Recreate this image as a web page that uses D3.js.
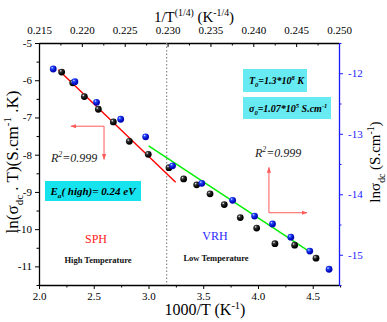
<!DOCTYPE html>
<html><head><meta charset="utf-8">
<script src="https://cdn.jsdelivr.net/npm/d3@7/dist/d3.min.js"></script>
<style>
body{margin:0;background:#fff}
svg{display:block}
text{font-family:"Liberation Serif","Times New Roman",serif}
</style>
</head><body>
<svg id="c" width="387" height="322"></svg>
<script>
// ---- data (bottom / left axes): ln(sigma_dc*T) vs 1000/T ----
const blackX = [2.207, 2.308, 2.414, 2.542, 2.679, 2.825, 2.998, 3.187, 3.321, 3.440, 3.562, 3.692, 3.838, 3.988, 4.155, 4.335, 4.530];
const blackY = [-5.78, -6.07, -6.44, -6.78, -7.12, -7.64, -7.99, -8.35, -8.65, -8.81, -9.05, -9.34, -9.69, -9.97, -10.39, -10.43, -10.78];
// ---- data (top / right axes): ln(sigma_dc) vs 1/T^(1/4) ----
const blueX = [0.21666, 0.21919, 0.22171, 0.22453, 0.22744, 0.23058, 0.23399, 0.23759, 0.24015, 0.24224, 0.24438, 0.24659, 0.24884];
const blueY = [-11.93, -12.14, -12.48, -12.76, -13.05, -13.53, -13.82, -14.10, -14.36, -14.49, -14.71, -14.94, -15.24];
// fits
const redFitX = [2.176, 3.248];
const redFitY = [-5.72, -8.74];
const greenFitX = [0.22779, 0.24678];
const greenFitY = [-13.20, -14.97];
const dividerX = 3.166;
// ticks
const bottomTicks = [2.0, 2.5, 3.0, 3.5, 4.0, 4.5];
const bottomMinor = [2.25, 2.75, 3.25, 3.75, 4.25, 4.75];
const leftTicks = [-5, -6, -7, -8, -9, -10, -11];
const leftMinor = [-5.5, -6.5, -7.5, -8.5, -9.5, -10.5, -11.5];
const topTicks = [0.215, 0.220, 0.225, 0.230, 0.235, 0.240, 0.245, 0.250];
const topMinor = [0.2175, 0.2225, 0.2275, 0.2325, 0.2375, 0.2425, 0.2475];
const rightTicks = [-12, -13, -14, -15];
const rightMinor = [-11.5, -12.5, -13.5, -14.5, -15.5];
// annotation anchor points (data coords)
const leftArrow = {cx: 2.594, cy: -7.235, toX: 2.292, toY: -8.127};
const rightArrow = {cx: 4.100, cy: -9.559, toX: 4.447, toY: -8.343};

const svg = d3.select("#c");
const L = 39, R = 339, T = 43, B = 285;
const x = d3.scaleLinear([2, 4.74], [L, R]);
const y = d3.scaleLinear([-11.5, -5], [B, T]);
const xt = d3.scaleLinear([0.215, 0.250], [L, R]);
const yr = d3.scaleLinear([-15.5, -11.5], [B, T]);

const defs = svg.append("defs");
function grad(id, c0, c1, c2) {
  const g = defs.append("radialGradient").attr("id", id).attr("cx", "35%").attr("cy", "32%").attr("r", "70%");
  g.append("stop").attr("offset", "0%").attr("stop-color", c0);
  g.append("stop").attr("offset", "25%").attr("stop-color", c1);
  g.append("stop").attr("offset", "75%").attr("stop-color", c2);
}
grad("gb", "#ffffff", "#3a3a3a", "#000000");
grad("gu", "#e0e8ff", "#2444ff", "#0008b8");
const mk = (id, col, path) => defs.append("marker").attr("id", id).attr("viewBox", "0 0 10 10")
  .attr("refX", 9).attr("refY", 5).attr("markerWidth", 6).attr("markerHeight", 6)
  .attr("orient", "auto-start-reverse").append("path").attr("d", path).attr("fill", col);
mk("ar", "#ff5a5a", "M0,1.5 L10,5 L0,8.5 Z");

function rich(t, parts, base) {
  parts.forEach(p => {
    const [s, kind] = p;
    const ts = t.append("tspan").text(s);
    if (kind === "sub") ts.attr("dy", base * 0.3).attr("font-size", base * 0.65);
    else if (kind === "sup") ts.attr("dy", -base * 0.4).attr("font-size", base * 0.65);
    else if (kind === "subR") ts.attr("dy", -base * 0.3);
    else if (kind === "supR") ts.attr("dy", base * 0.4);
  });
}

// axes
const tickFont = 11;
function styleAxis(g, col) {
  g.selectAll("path.domain").attr("stroke", col).attr("stroke-width", 1.3);
  g.selectAll(".tick line").attr("stroke", col).attr("stroke-width", 1);
  g.selectAll(".tick text").attr("fill", col).attr("font-size", tickFont)
    .attr("font-family", "Liberation Serif, serif");
}
const fmtNeg = d => (d < 0 ? "-" : "") + Math.abs(d);
// bottom
const gB = svg.append("g").attr("transform", `translate(0,${B})`)
  .call(d3.axisBottom(x).tickValues(bottomTicks).tickFormat(d3.format(".1f")).tickSize(4).tickSizeOuter(0).tickPadding(3));
styleAxis(gB, "#000");
svg.append("g").attr("transform", `translate(0,${B})`)
  .call(d3.axisBottom(x).tickValues(bottomMinor).tickFormat("").tickSize(2.5).tickSizeOuter(0))
  .call(g => { g.select(".domain").remove(); g.selectAll("line").attr("stroke", "#000"); });
// left
const gL = svg.append("g").attr("transform", `translate(${L},0)`)
  .call(d3.axisLeft(y).tickValues(leftTicks).tickFormat(fmtNeg).tickSize(4).tickSizeOuter(0).tickPadding(3));
styleAxis(gL, "#000");
svg.append("g").attr("transform", `translate(${L},0)`)
  .call(d3.axisLeft(y).tickValues(leftMinor).tickFormat("").tickSize(2.5).tickSizeOuter(0))
  .call(g => { g.select(".domain").remove(); g.selectAll("line").attr("stroke", "#000"); });
// top
const gT = svg.append("g").attr("transform", `translate(0,${T})`)
  .call(d3.axisTop(xt).tickValues(topTicks).tickFormat(d3.format(".3f")).tickSize(-4).tickSizeOuter(0).tickPadding(9));
styleAxis(gT, "#000");
svg.append("g").attr("transform", `translate(0,${T})`)
  .call(d3.axisTop(xt).tickValues(topMinor).tickFormat("").tickSize(-2.5).tickSizeOuter(0))
  .call(g => { g.select(".domain").remove(); g.selectAll("line").attr("stroke", "#000"); });
// right
const gR = svg.append("g").attr("transform", `translate(${R},0)`)
  .call(d3.axisRight(yr).tickValues(rightTicks).tickFormat(fmtNeg).tickSize(4).tickSizeOuter(0).tickPadding(5));
styleAxis(gR, "#1a1aff");
svg.append("g").attr("transform", `translate(${R},0)`)
  .call(d3.axisRight(yr).tickValues(rightMinor).tickFormat("").tickSize(2.5).tickSizeOuter(0))
  .call(g => { g.select(".domain").remove(); g.selectAll("line").attr("stroke", "#1a1aff"); });

// divider
svg.append("line").attr("x1", x(dividerX)).attr("x2", x(dividerX)).attr("y1", T).attr("y2", B)
  .attr("stroke", "#888").attr("stroke-width", 1.2).attr("stroke-dasharray", "1.5,2");

// fit lines
svg.append("line").attr("x1", x(redFitX[0])).attr("y1", y(redFitY[0])).attr("x2", x(redFitX[1])).attr("y2", y(redFitY[1]))
  .attr("stroke", "#ff0000").attr("stroke-width", 1.4);
svg.append("line").attr("x1", xt(greenFitX[0])).attr("y1", yr(greenFitY[0])).attr("x2", xt(greenFitX[1])).attr("y2", yr(greenFitY[1]))
  .attr("stroke", "#00ee00").attr("stroke-width", 1.4);

// points
svg.append("g").selectAll("circle").data(blackX.map((d, i) => [d, blackY[i]])).join("circle")
  .attr("cx", d => x(d[0])).attr("cy", d => y(d[1])).attr("r", 3.4).attr("fill", "url(#gb)");
svg.append("g").selectAll("circle").data(blueX.map((d, i) => [d, blueY[i]])).join("circle")
  .attr("cx", d => xt(d[0])).attr("cy", d => yr(d[1])).attr("r", 3.4).attr("fill", "url(#gu)");

// arrows
function arrowPath(x1, y1, x2, y2) {
  svg.append("line").attr("x1", x1).attr("y1", y1).attr("x2", x2).attr("y2", y2)
    .attr("stroke", "#ff5a5a").attr("stroke-width", 1).attr("marker-end", "url(#ar)");
}
arrowPath(x(leftArrow.cx), y(leftArrow.cy), x(leftArrow.toX), y(leftArrow.cy));
arrowPath(x(leftArrow.cx), y(leftArrow.cy), x(leftArrow.cx), y(leftArrow.toY));
arrowPath(x(rightArrow.cx), y(rightArrow.cy), x(rightArrow.cx), y(rightArrow.toY));
arrowPath(x(rightArrow.cx), y(rightArrow.cy), x(rightArrow.toX), y(rightArrow.cy));

// R^2 labels
function r2(px, py) {
  const t = svg.append("text").attr("x", px).attr("y", py).attr("font-size", 12).attr("font-style", "italic").attr("fill", "#222");
  rich(t, [["R"], ["2", "sup"], ["=0.999", "supR"]], 12);
}
r2(51, 162);
r2(255, 157);

// cyan boxes
svg.append("rect").attr("x", 45).attr("y", 181).attr("width", 96).attr("height", 20).attr("fill", "#16e3ee");
const te = svg.append("text").attr("x", 93).attr("y", 195).attr("text-anchor", "middle")
  .attr("font-size", 11).attr("font-weight", "bold").attr("font-style", "italic");
rich(te, [["E"], ["a", "sub"], ["( high)= 0.24 eV", "subR"]], 11);

svg.append("rect").attr("x", 243).attr("y", 69).attr("width", 64).attr("height", 23).attr("fill", "#68eaf2");
const t0 = svg.append("text").attr("x", 249).attr("y", 84).attr("font-size", 10).attr("font-weight", "bold").attr("font-style", "italic");
rich(t0, [["T"], ["0", "sub"], ["=1.3*10", "subR"], ["8", "sup"], [" K", "supR"]], 10);

svg.append("rect").attr("x", 243).attr("y", 97).attr("width", 88).attr("height", 22).attr("fill", "#68eaf2");
const s0 = svg.append("text").attr("x", 249).attr("y", 112).attr("font-size", 10).attr("font-weight", "bold").attr("font-style", "italic");
rich(s0, [["σ"], ["0", "sub"], ["=1.07*10", "subR"], ["5", "sup"], [" S.cm", "supR"], ["-1", "sup"]], 10);

// region labels
svg.append("text").attr("x", 96).attr("y", 243).attr("text-anchor", "middle").attr("font-size", 12).attr("fill", "#ff2020").text("SPH");
svg.append("text").attr("x", 98).attr("y", 263).attr("text-anchor", "middle").attr("font-size", 8.5).attr("font-weight", "bold").attr("fill", "#111").text("High Temperature");
svg.append("text").attr("x", 215).attr("y", 240).attr("text-anchor", "middle").attr("font-size", 12).attr("fill", "#2b2bff").text("VRH");
svg.append("text").attr("x", 216).attr("y", 261).attr("text-anchor", "middle").attr("font-size", 8.5).attr("font-weight", "bold").attr("fill", "#111").text("Low Temperature");

// axis titles
const tb = svg.append("text").attr("x", 205).attr("y", 315).attr("text-anchor", "middle").attr("font-size", 16);
rich(tb, [["1000/T (K"], ["-1", "sup"], [")", "supR"]], 16);
const tt = svg.append("text").attr("x", 194).attr("y", 22).attr("text-anchor", "middle").attr("font-size", 15);
rich(tt, [["1/T"], ["(1/4)", "sup"], [" (K", "supR"], ["-1/4", "sup"], [")", "supR"]], 15);
const tl = svg.append("text").attr("transform", "translate(18,162) rotate(-90)").attr("text-anchor", "middle").attr("font-size", 17);
rich(tl, [["ln(σ"], ["dc", "sub"], [" . T)(S.cm", "subR"], ["-1", "sup"], [" .K)", "supR"]], 17);
const tr = svg.append("text").attr("transform", "translate(380,162) rotate(-90)").attr("text-anchor", "middle").attr("font-size", 15);
rich(tr, [["lnσ"], ["dc", "sub"], [" (S.cm", "subR"], ["-1", "sup"], [")", "supR"]], 15);
</script>
</body></html>
